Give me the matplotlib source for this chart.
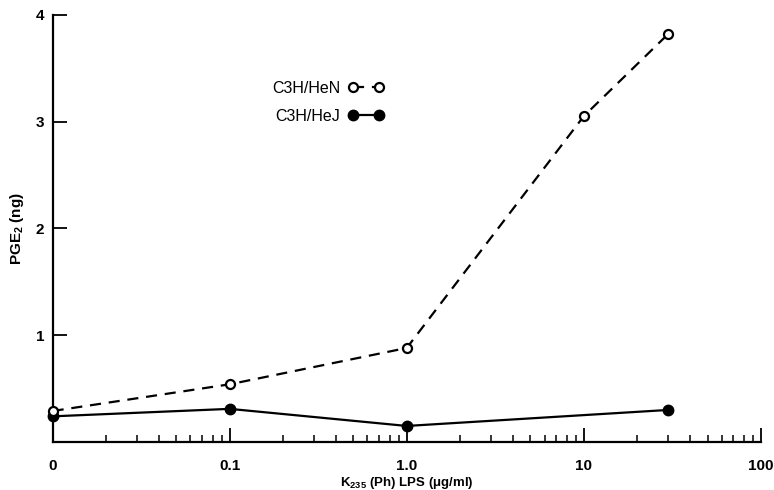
import numpy as np
import matplotlib
matplotlib.use("Agg")
import matplotlib.pyplot as plt
from matplotlib.ticker import FixedLocator, NullFormatter

# ---------------------------------------------------------------------------
# Data
# ---------------------------------------------------------------------------
hen_dose = [0, 0.1, 1.0, 10, 30]
hen_pge2 = [0.29, 0.54, 0.88, 3.05, 3.82]

hej_dose = [0, 0.1, 1.0, 30]
hej_pge2 = [0.24, 0.31, 0.15, 0.30]

x_ticks = [0, 0.1, 1.0, 10, 100]
x_ticklabels = ["0", "0.1", "1.0", "10", "100"]
y_ticks = [1, 2, 3, 4]

ZERO_AT = 0.01   # where dose "0" sits on the log axis


def to_axis(d):
    return [ZERO_AT if v == 0 else v for v in d]


plt.rcParams["font.family"] = "Liberation Sans"
plt.rcParams["mathtext.fontset"] = "custom"
plt.rcParams["mathtext.rm"] = "Liberation Sans:bold"
plt.rcParams["mathtext.bf"] = "Liberation Sans:bold"
plt.rcParams["mathtext.it"] = "Liberation Sans:bold"

fig = plt.figure(figsize=(7.74, 4.90), dpi=100)
ax = fig.add_axes([0.068, 0.098, 0.915, 0.872])

ax.plot(to_axis(hen_dose), hen_pge2, color="black", lw=1.6,
        dashes=(5, 3.5), marker="o", markersize=6.5, markerfacecolor="white",
        markeredgewidth=1.6, clip_on=False, zorder=4, label="C3H/HeN")
ax.plot(to_axis(hej_dose), hej_pge2, color="black", lw=1.6,
        marker="o", markersize=7.5, clip_on=False, zorder=3, label="C3H/HeJ")

ax.set_xscale("log")
ax.set_xlim(ZERO_AT, 100)
ax.set_ylim(0, 4)

ax.spines["top"].set_visible(False)
ax.spines["right"].set_visible(False)
for s in ("left", "bottom"):
    ax.spines[s].set_linewidth(1.6)

ax.xaxis.set_major_locator(FixedLocator(to_axis(x_ticks)))
ax.set_xticklabels(x_ticklabels)
minor = [m * 10.0 ** e for e in range(-2, 2) for m in range(2, 10)]
ax.xaxis.set_minor_locator(FixedLocator(minor))
ax.xaxis.set_minor_formatter(NullFormatter())
ax.set_yticks(y_ticks)

ax.tick_params(axis="both", which="major", direction="in", length=10,
               width=1.3, labelsize=11)
ax.tick_params(axis="x", which="minor", direction="in", length=5, width=1.1)
ax.tick_params(axis="x", which="major", pad=12)
ax.tick_params(axis="y", which="major", pad=6)
for lbl in ax.get_xticklabels() + ax.get_yticklabels():
    lbl.set_fontweight("bold")

ax.set_xlabel(r"K$_{235}$ (Ph) LPS ($\mu$g/ml)", fontsize=9.5,
              fontweight="bold")
ax.xaxis.set_label_coords(0.5, -0.078)
ax.set_ylabel(r"PGE$_{2}$ (ng)", fontsize=11, fontweight="bold", labelpad=7)

ax.legend(loc="upper left", bbox_to_anchor=(0.31, 0.845), frameon=False,
          markerfirst=False, numpoints=2, handlelength=2.2, fontsize=11.5,
          labelspacing=0.8, handletextpad=0.5, borderpad=0,
          borderaxespad=0)

fig.savefig("out.png", dpi=100, facecolor="white")
